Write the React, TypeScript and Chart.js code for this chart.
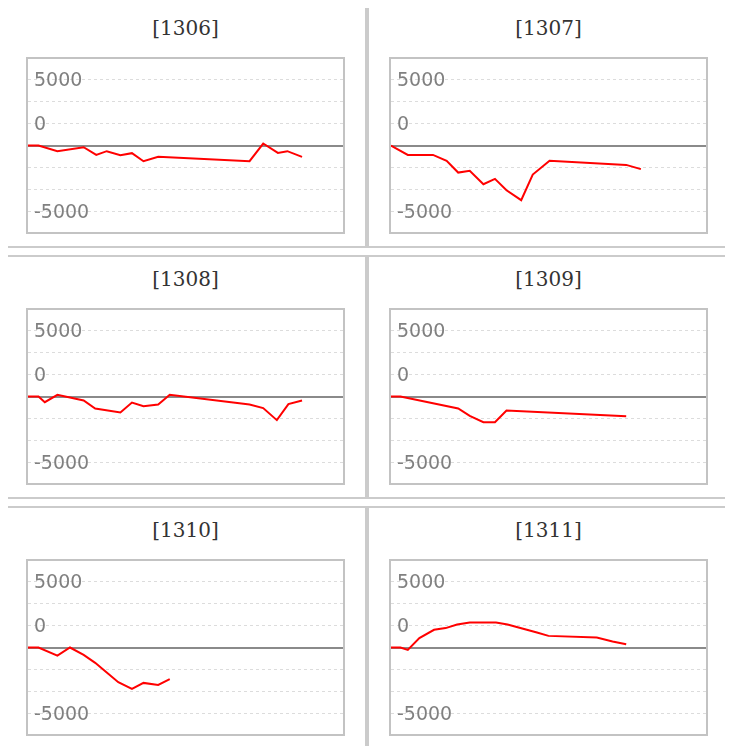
import { useEffect, useRef } from "react";
import Chart from "chart.js/auto";

// panel titles (month codes)
const panelTitles = ["[1306]", "[1307]", "[1308]", "[1309]", "[1310]", "[1311]"];

// x = position along the month, y = running value
const s1306X = [0, 1.0, 2.8, 5.3, 6.5, 7.5, 8.8, 9.9, 11.0, 12.4, 21.1, 22.4, 23.8, 24.7, 26.1];
const s1306Y = [0, 0, -430, -130, -710, -430, -730, -580, -1190, -860, -1190, 150, -560, -430, -860];

const s1307X = [0, 1.6, 4.0, 5.3, 6.4, 7.5, 8.8, 9.9, 11.0, 12.4, 13.5, 15.1, 22.4, 23.8];
const s1307Y = [0, -710, -710, -1160, -2050, -1920, -2930, -2530, -3390, -4140, -2200, -1160, -1470, -1790];

const s1308X = [0, 1.0, 1.6, 2.8, 5.3, 6.4, 8.8, 9.9, 11.0, 12.4, 13.5, 21.1, 22.4, 23.7, 24.8, 26.1];
const s1308Y = [0, 0, -430, 130, -300, -910, -1210, -460, -730, -610, 130, -610, -880, -1790, -580, -300];

const s1309X = [0, 0.9, 6.4, 7.5, 8.8, 9.9, 11.0, 22.4];
const s1309Y = [0, 0, -910, -1470, -1950, -1950, -1060, -1490];

const s1310X = [0, 1.0, 2.8, 4.0, 5.3, 6.4, 7.5, 8.6, 9.9, 11.0, 12.4, 13.5];
const s1310Y = [0, 0, -610, 0, -560, -1160, -1900, -2630, -3130, -2680, -2830, -2400];

const s1311X = [0, 0.9, 1.6, 2.7, 4.1, 5.2, 6.3, 7.5, 10.0, 11.1, 12.5, 13.9, 15.0, 19.6, 21.1, 22.4];
const s1311Y = [0, 0, -180, 710, 1340, 1470, 1740, 1900, 1900, 1740, 1440, 1140, 880, 760, 460, 250];

const seriesX = [s1306X, s1307X, s1308X, s1309X, s1310X, s1311X];
const seriesY = [s1306Y, s1307Y, s1308Y, s1309Y, s1310Y, s1311Y];

// grid lines and the labels shown on them
const yGridValues = [-5000, -3333.33, -1666.67, 0, 1666.67, 3333.33, 5000];
const yTickLabels = ["-5000", "", "", "", "0", "", "5000"];

const xRange = [0, 30];
const yRange = [-6550, 6550];

const css = `
  .pl-grid {
    margin: -4px;
    width: 726px;
    display: grid;
    grid-template-columns: 363px 363px;
    grid-auto-rows: 244px;
    row-gap: 7px;
  }
  .pl-panel {
    position: relative;
    box-sizing: border-box;
    border: 2px solid #cbcbcb;
    background: #fff;
  }
  .pl-title {
    position: absolute;
    left: 0;
    right: 0;
    top: 10px;
    text-align: center;
    font-family: "DejaVu Serif", serif;
    font-size: 20px;
    line-height: 24px;
    color: #333;
  }
  .pl-box {
    position: absolute;
    left: 20px;
    top: 51px;
    width: 319px;
    height: 177px;
    box-sizing: border-box;
    border: 2px solid #c3c3c3;
  }
  .pl-box .inner {
    position: relative;
    width: 315px;
    height: 173px;
  }
`;

function Panel({ title, xs, ys }: { title: string; xs: number[]; ys: number[] }) {
  const ref = useRef<HTMLCanvasElement>(null);

  useEffect(() => {
    const canvas = ref.current;
    if (!canvas) return;
    const chart = new Chart(canvas, {
      type: "line",
      data: {
        datasets: [
          {
            data: xs.map((x, i) => ({ x, y: ys[i] })),
            borderColor: "#ff0000",
            borderWidth: 2,
            pointRadius: 0,
            tension: 0,
            fill: false,
          },
        ],
      },
      options: {
        responsive: true,
        maintainAspectRatio: false,
        animation: false,
        layout: { padding: 0 },
        plugins: {
          legend: { display: false },
          tooltip: { enabled: false },
        },
        scales: {
          x: {
            type: "linear",
            min: xRange[0],
            max: xRange[1],
            display: false,
          },
          y: {
            type: "linear",
            min: yRange[0],
            max: yRange[1],
            afterFit: (axis: any) => {
              // labels sit inside the plot, so the axis takes no room
              axis.width = 0;
              axis.paddingTop = 0;
              axis.paddingBottom = 0;
              axis.paddingLeft = 0;
              axis.paddingRight = 0;
            },
            afterBuildTicks: (axis: any) => {
              axis.ticks = yGridValues.map((value) => ({ value }));
            },
            grid: {
              drawTicks: false,
              color: (ctx: any) => (ctx.tick && ctx.tick.value === 0 ? "#8a8a8a" : "#dcdcdc"),
              lineWidth: (ctx: any) => (ctx.tick && ctx.tick.value === 0 ? 2 : 1),
            },
            border: {
              display: false,
              dash: (ctx: any) => (ctx.tick && ctx.tick.value === 0 ? [] : [3, 3]),
            },
            ticks: {
              mirror: true,
              padding: 6,
              labelOffset: 2,
              autoSkip: false,
              color: "#808080",
              font: { family: "DejaVu Sans", size: 19, lineHeight: 1 },
              callback: (_v: any, i: number) => yTickLabels[i],
            },
          },
        },
      },
    });
    return () => chart.destroy();
  }, [xs, ys]);

  return (
    <div className="pl-panel">
      <div className="pl-title">{title}</div>
      <div className="pl-box">
        <div className="inner">
          <canvas ref={ref} />
        </div>
      </div>
    </div>
  );
}

export default function App() {
  return (
    <div className="pl-grid">
      <style>{css}</style>
      {panelTitles.map((t, i) => (
        <Panel key={t} title={t} xs={seriesX[i]} ys={seriesY[i]} />
      ))}
    </div>
  );
}
